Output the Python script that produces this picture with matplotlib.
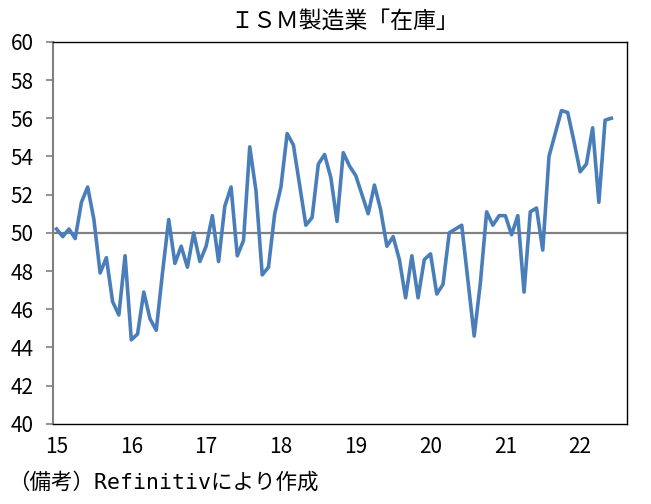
import matplotlib
matplotlib.use("Agg")
import matplotlib.pyplot as plt
import numpy as np

plt.rcParams['font.family'] = ['Noto Sans CJK JP', 'DejaVu Sans']

# ISM manufacturing inventories index, monthly Jan 2015 - Jun 2022
inventories = [
    50.2, 49.8, 50.2, 49.7, 51.6, 52.4, 50.7, 47.9, 48.7, 46.4, 45.7, 48.8,  # 2015
    44.4, 44.7, 46.9, 45.5, 44.9, 47.9, 50.7, 48.4, 49.3, 48.2, 50.0, 48.5,  # 2016
    49.3, 50.9, 48.5, 51.4, 52.4, 48.8, 49.6, 54.5, 52.2, 47.8, 48.2, 51.0,  # 2017
    52.4, 55.2, 54.6, 52.5, 50.4, 50.8, 53.6, 54.1, 52.9, 50.6, 54.2, 53.5,  # 2018
    53.0, 52.0, 51.0, 52.5, 51.2, 49.3, 49.8, 48.6, 46.6, 48.8, 46.6, 48.6,  # 2019
    48.9, 46.8, 47.3, 50.0, 50.2, 50.4, 47.5, 44.6, 47.4, 51.1, 50.4, 50.9,  # 2020
    50.9, 49.9, 50.9, 46.9, 51.1, 51.3, 49.1, 54.0, 55.2, 56.4, 56.3, 54.8,  # 2021
    53.2, 53.6, 55.5, 51.6, 55.9, 56.0,                                      # 2022
]
year_labels = ["15", "16", "17", "18", "19", "20", "21", "22"]
n_slots = 92  # axis runs to Aug 2022

fig = plt.figure(figsize=(6.51, 5.04), dpi=100)
ax = fig.add_axes([0.082, 0.159, 0.881, 0.758])

x = np.arange(len(inventories))
ax.axhline(50, color="#808080", lw=1.6, zorder=1)
ax.plot(x, inventories, color="#4A7EBB", lw=2.6, zorder=2)

ax.set_xlim(-0.5, n_slots - 0.5)
ax.set_ylim(40, 60)
ax.set_yticks(range(40, 61, 2))
ax.set_xticks(np.arange(len(year_labels)) * 12)
ax.set_xticklabels(year_labels)

ax.tick_params(axis="y", direction="out", length=5, width=1.2, color="#808080",
               labelsize=15, pad=9)
ax.tick_params(axis="x", length=0, labelsize=15, pad=9)

for side in ["top", "right", "bottom"]:
    ax.spines[side].set_color("black")
    ax.spines[side].set_linewidth(1.0)
ax.spines["left"].set_color("#808080")
ax.spines["left"].set_linewidth(1.5)

fig.text(0.53, 0.958, "ＩＳＭ製造業「在庫」", ha="center", va="center", fontsize=16.5)
# monospaced latin part, CJK glyphs fall back to Noto
fig.text(0.012, 0.042, "（備考）Refinitivにより作成", ha="left", va="center", fontsize=15.5,
         family=['DejaVu Sans Mono', 'Noto Sans CJK JP'])

fig.savefig("out.png", dpi=100)
